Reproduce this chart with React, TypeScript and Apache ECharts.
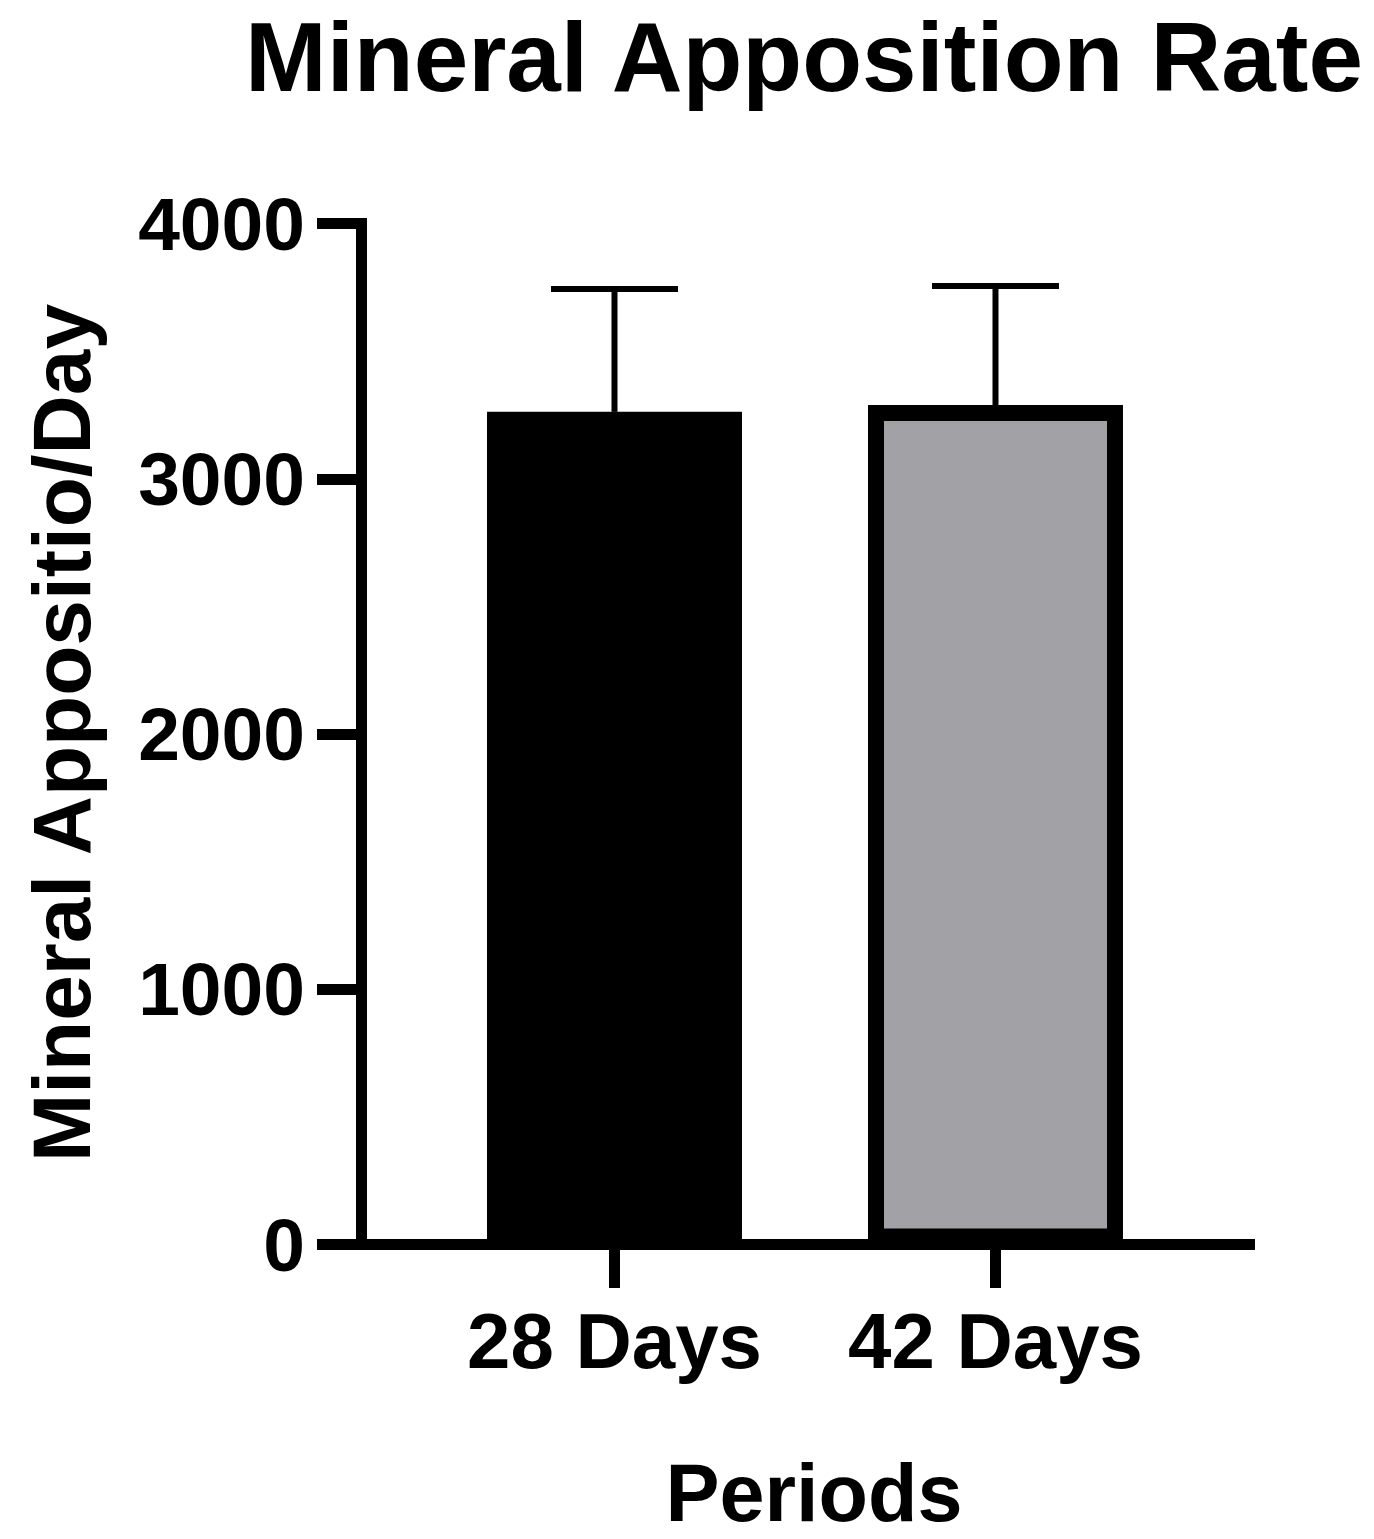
import React, { useEffect, useRef } from "react";
import * as echarts from "echarts";

const categories = ["28 Days", "42 Days"];
const means = [3262, 3289];
const errorTops = [3743, 3755];
const barColors = ["#000000", "#a2a1a6"];
const yMin = 0;
const yMax = 4000;
const yInterval = 1000;
const titleText = "Mineral Apposition Rate";
const yTitle = "Mineral Appositio/Day";
const xTitle = "Periods";

const FONT = '"Liberation Sans", Arial, Helvetica, sans-serif';

export default function App() {
  const ref = useRef<HTMLDivElement>(null);
  useEffect(() => {
    document.body.style.margin = "0";
    if (!ref.current) return;
    const chart = echarts.init(ref.current, null, { renderer: "svg" });
    const positions = categories.map((_, i) => i);
    const option: any = {
      animation: false,
      backgroundColor: "#ffffff",
      grid: { left: 322.5, top: 223.5, width: 927, height: 1021, containLabel: false },
      xAxis: {
        type: "value",
        min: -0.7664,
        max: 1.6667,
        splitLine: { show: false },
        axisLine: { show: true, onZero: false, lineStyle: { color: "#000", width: 11, cap: "square" } },
        axisTick: { show: true, customValues: positions, length: 43.5, lineStyle: { color: "#000", width: 11 } },
        axisLabel: {
          show: true,
          customValues: positions,
          formatter: (v: number) => categories[Math.round(v)] ?? "",
          color: "#000",
          fontFamily: FONT,
          fontWeight: "bold",
          fontSize: 78,
          margin: 96.5,
          verticalAlign: "middle",
        },
      },
      yAxis: {
        type: "value",
        min: yMin,
        max: yMax,
        interval: yInterval,
        offset: -38.5,
        splitLine: { show: false },
        axisLine: { show: true, onZero: false, lineStyle: { color: "#000", width: 11, cap: "square" } },
        axisTick: { show: true, length: 44, lineStyle: { color: "#000", width: 11 } },
        axisLabel: {
          color: "#000",
          fontFamily: FONT,
          fontWeight: "bold",
          fontSize: 75,
          margin: 56,
          formatter: (v: number) => String(v),
        },
      },
      series: [
        {
          type: "bar",
          barWidth: 255,
          data: means.map((v, i) => ({
            value: [positions[i], v],
            itemStyle: { color: barColors[i], borderColor: "#000", borderWidth: 16 },
          })),
          z: 2,
        },
        {
          type: "custom",
          data: means.map((v, i) => [positions[i], v, errorTops[i]]),
          encode: { x: 0, y: [1, 2] },
          z: 3,
          renderItem: (params: any, api: any) => {
            const x = api.value(0);
            const p0 = api.coord([x, api.value(1)]);
            const p1 = api.coord([x, api.value(2)]);
            const half = 63.5;
            return {
              type: "group",
              children: [
                {
                  type: "line",
                  shape: { x1: p0[0], y1: p0[1], x2: p1[0], y2: p1[1] },
                  style: { stroke: "#000", lineWidth: 6 },
                },
                {
                  type: "line",
                  shape: { x1: p1[0] - half, y1: p1[1], x2: p1[0] + half, y2: p1[1] },
                  style: { stroke: "#000", lineWidth: 6 },
                },
              ],
            };
          },
        },
      ],
      graphic: [
        {
          type: "text",
          x: 804,
          y: 57,
          style: {
            text: titleText,
            fill: "#000",
            fontFamily: FONT,
            fontWeight: "bold",
            fontSize: 98,
            align: "center",
            verticalAlign: "middle",
          },
        },
        {
          type: "text",
          x: 61,
          y: 733,
          rotation: Math.PI / 2,
          style: {
            text: yTitle,
            fill: "#000",
            fontFamily: FONT,
            fontWeight: "bold",
            fontSize: 82,
            align: "center",
            verticalAlign: "middle",
          },
        },
        {
          type: "text",
          x: 814,
          y: 1493,
          style: {
            text: xTitle,
            fill: "#000",
            fontFamily: FONT,
            fontWeight: "bold",
            fontSize: 81,
            align: "center",
            verticalAlign: "middle",
          },
        },
      ],
    };
    chart.setOption(option);
    return () => chart.dispose();
  }, []);
  return <div ref={ref} style={{ width: 1374, height: 1539 }} />;
}
